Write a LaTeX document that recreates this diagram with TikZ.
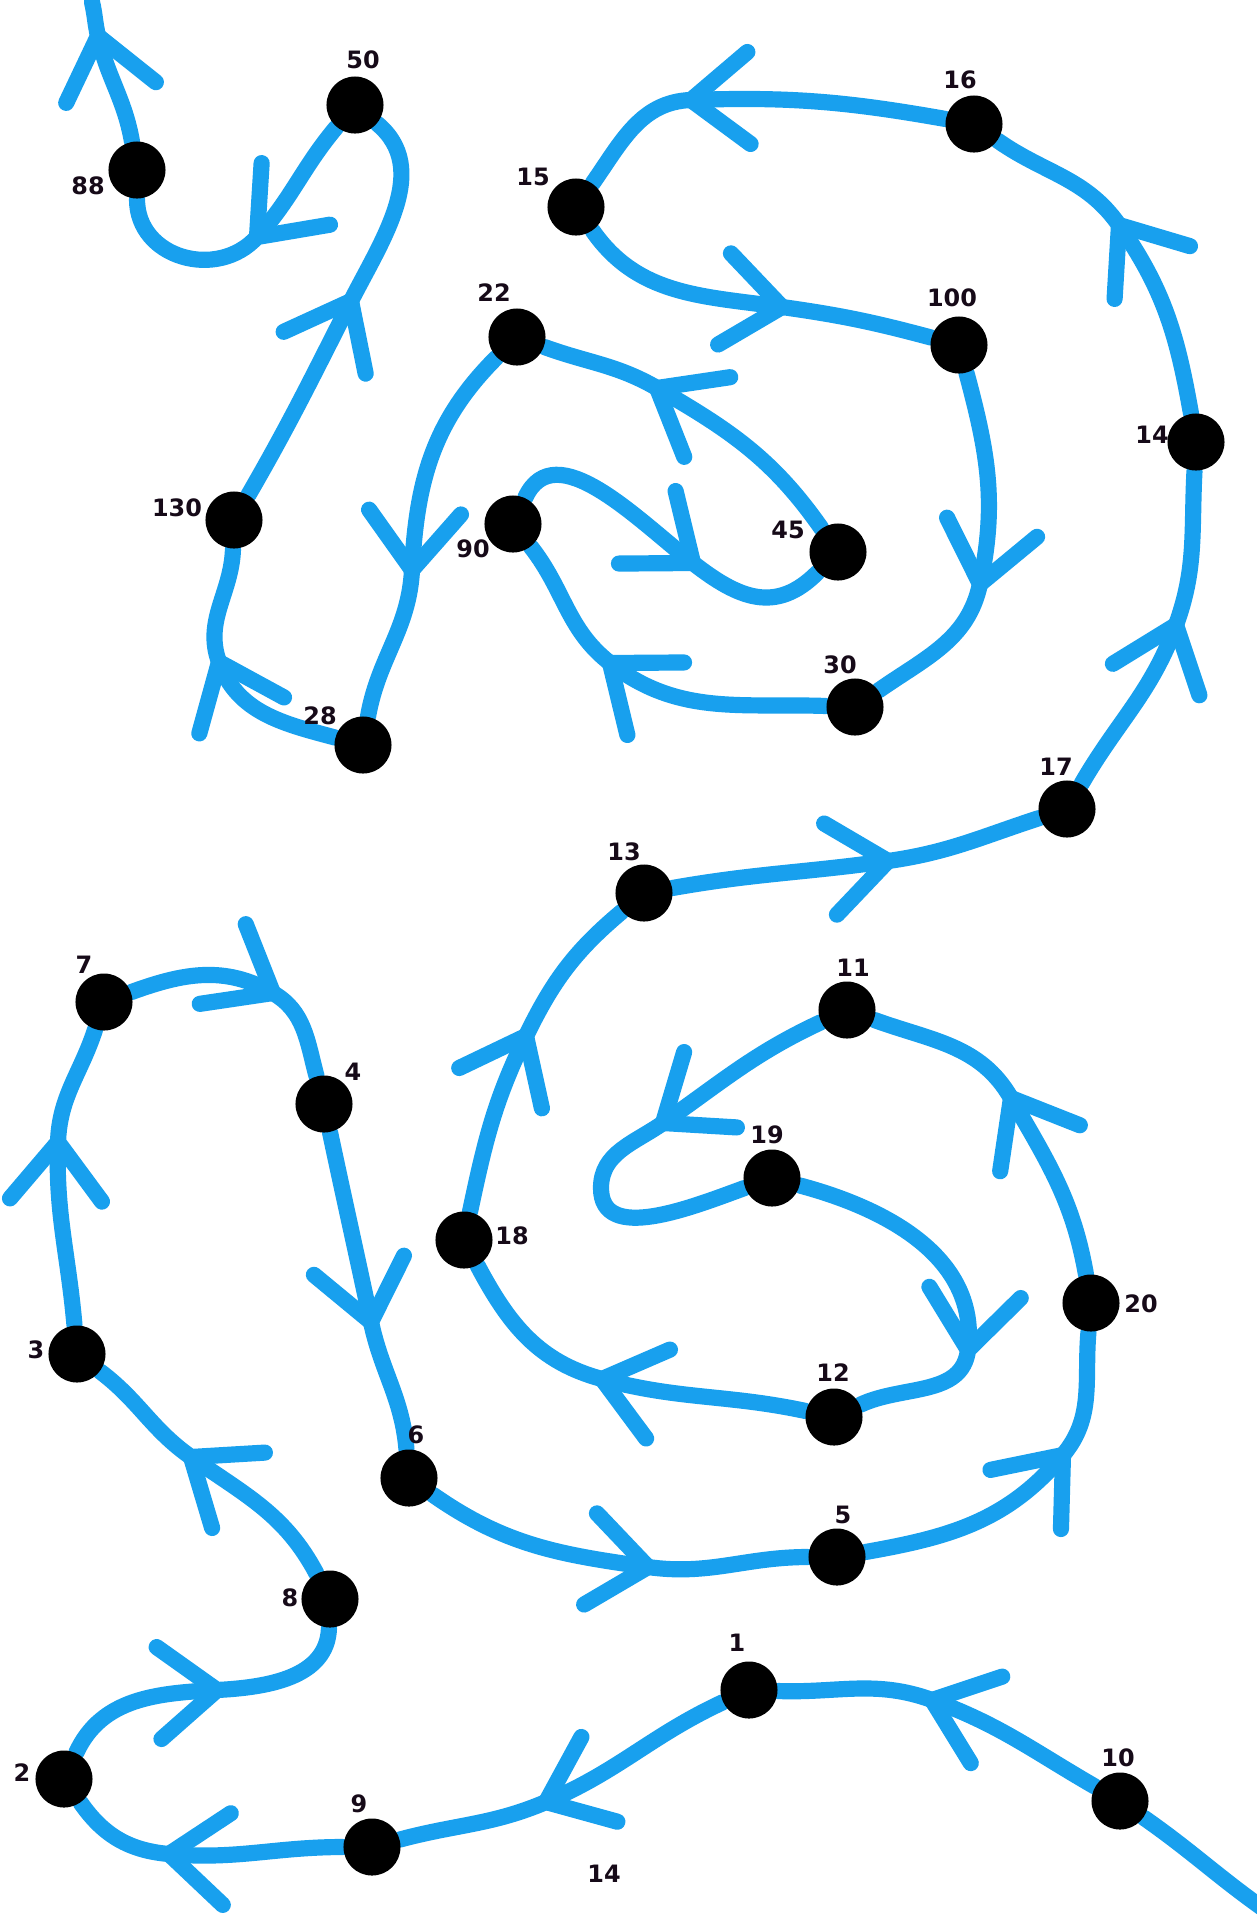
\documentclass[tikz,border=0pt]{standalone}
\usepackage{fontspec}
\newfontfamily\numfont{DejaVu Sans}
\definecolor{trail}{RGB}{24,160,238}
\definecolor{ink}{RGB}{22,10,24}
\pgfdeclarelayer{under}
\pgfsetlayers{under,main}
\tikzset{
  route/.style={draw=trail, line width=4.6pt, line cap=round, line join=round},
  dot/.style={circle, fill=black, minimum size=0.57cm, inner sep=0pt},
  lbl/.style={font=\numfont\bfseries\fontsize{6.8pt}{7pt}\selectfont, text=ink, inner sep=0pt},
  vhead/.pic={\draw[route] (-58,46) -- (0,0) -- (-58,-46);}
}
\begin{document}
\begin{tikzpicture}[x=0.01cm, y=-0.01cm]
\useasboundingbox (0,0) rectangle (1257,1917);

% dots
\node[dot] (n10) at (1120,1801) {};
\node[dot] (n1) at (749,1690) {};
\node[dot] (n9) at (372,1847) {};
\node[dot] (n2) at (64,1779) {};
\node[dot] (n8) at (330,1599) {};
\node[dot] (n3) at (77,1354) {};
\node[dot] (n7) at (104,1002) {};
\node[dot] (n4) at (324,1104) {};
\node[dot] (n6) at (409,1478) {};
\node[dot] (n5) at (837,1557) {};
\node[dot] (n20) at (1091,1303) {};
\node[dot] (n11) at (847,1010) {};
\node[dot] (n19) at (772,1178) {};
\node[dot] (n12) at (834,1417) {};
\node[dot] (n18) at (464,1240) {};
\node[dot] (n13) at (644,893) {};
\node[dot] (n17) at (1067,809) {};
\node[dot] (n14) at (1196,442) {};
\node[dot] (n16) at (974,124) {};
\node[dot] (n15) at (576,207) {};
\node[dot] (n100) at (959,345) {};
\node[dot] (n30) at (855,707) {};
\node[dot] (n90) at (513,524) {};
\node[dot] (n45) at (838,552) {};
\node[dot] (n22) at (517,337) {};
\node[dot] (n28) at (363,745) {};
\node[dot] (n130) at (234,520) {};
\node[dot] (n50) at (355,105) {};
\node[dot] (n88) at (137,170) {};

% labels
\node[lbl] (t10) at (1118,1758) {10};
\node[lbl] (t1) at (737,1643) {1};
\node[lbl] (t9) at (359,1804) {9};
\node[lbl] (t2) at (22,1773) {2};
\node[lbl] (t8) at (290,1598) {8};
\node[lbl] (t3) at (36,1350) {3};
\node[lbl] (t7) at (84,965) {7};
\node[lbl] (t4) at (353,1072) {4};
\node[lbl] (t6) at (416,1435) {6};
\node[lbl] (t5) at (843,1515) {5};
\node[lbl] (t20) at (1141,1304) {20};
\node[lbl] (t11) at (853,968) {11};
\node[lbl] (t19) at (767,1135) {19};
\node[lbl] (t12) at (833,1373) {12};
\node[lbl] (t18) at (512,1236) {18};
\node[lbl] (t13) at (624,852) {13};
\node[lbl] (t17) at (1056,767) {17};
\node[lbl] (t14) at (1152,435) {14};
\node[lbl] (t16) at (960,80) {16};
\node[lbl] (t15) at (533,177) {15};
\node[lbl] (t100) at (952,298) {100};
\node[lbl] (t30) at (840,665) {30};
\node[lbl] (t90) at (473,549) {90};
\node[lbl] (t45) at (788,530) {45};
\node[lbl] (t22) at (494,293) {22};
\node[lbl] (t28) at (320,716) {28};
\node[lbl] (t130) at (177,508) {130};
\node[lbl] (t50) at (363,60) {50};
\node[lbl] (t88) at (88,186) {88};
\node[lbl] (tx14) at (604,1874) {14};

% route ends, arrow points and the loop turn
\coordinate (s) at (1268,1912);
\coordinate (e) at (92,2);
\coordinate (lp) at (601,1188);
\coordinate (a1) at (932,1700);
\coordinate (a2) at (546,1802);
\coordinate (a3) at (169,1854);
\coordinate (a4) at (217,1690);
\coordinate (a5) at (191,1457);
\coordinate (a6) at (58,1142);
\coordinate (a7) at (273,993);
\coordinate (a8) at (371,1322);
\coordinate (a9) at (648,1567);
\coordinate (a10) at (1063,1455);
\coordinate (a11) at (1011,1098);
\coordinate (a12) at (663,1123);
\coordinate (a13) at (968,1350);
\coordinate (a14) at (602,1379);
\coordinate (a15) at (526,1036);
\coordinate (a16) at (888,861);
\coordinate (a17) at (1176,625);
\coordinate (a18) at (1119,225);
\coordinate (a19) at (691,100);
\coordinate (a20) at (782,307);
\coordinate (a21) at (980,584);
\coordinate (a22) at (610,663);
\coordinate (a23) at (693,563);
\coordinate (a24) at (657,388);
\coordinate (a25) at (412,570);
\coordinate (a26) at (219,662);
\coordinate (a27) at (351,301);
\coordinate (a28) at (257,237);
\coordinate (a29) at (98,36);

\begin{pgfonlayer}{under}
\fill[white] (0,0) rectangle (1257,1917);
\draw[route] (s) to[out=145,in=325] (n10)
  to[out=150,in=340] (a1) to[out=160,in=358] (n1)
  to[out=205,in=23] (a2) to[out=203,in=15] (n9)
  to[out=180,in=355] (a3) to[out=175,in=305] (n2)
  to[out=65,in=183] (a4) to[out=3,in=268] (n8)
  to[out=118,in=325] (a5) to[out=145,in=323] (n3)
  to[out=95,in=268] (a6) to[out=88,in=252] (n7)
  to[out=20,in=150] (a7) to[out=-30,in=105] (n4)
  to[out=-78,in=102] (a8) to[out=-78,in=95] (n6)
  to[out=-35,in=172] (a9) to[out=-8,in=180] (n5)
  to[out=10,in=230] (a10) to[out=50,in=265] (n20)
  to[out=100,in=300] (a11) to[out=120,in=340] (n11)
  to[out=205,in=35] (a12) to[out=215,in=90] (lp) to[out=270,in=200] (n19)
  to[out=-15,in=83] (a13) to[out=-97,in=25] (n12)
  to[out=168,in=345] (a14) to[out=165,in=298] (n18)
  to[out=78,in=244] (a15) to[out=64,in=220] (n13)
  to[out=10,in=188] (a16) to[out=8,in=198] (n17)
  to[out=60,in=250] (a17) to[out=70,in=267] (n14)
  to[out=100,in=305] (a18) to[out=125,in=325] (n16)
  to[out=170,in=2] (a19) to[out=182,in=55] (n15)
  to[out=-55,in=172] (a20) to[out=-8,in=165] (n100)
  to[out=-75,in=78] (a21) to[out=-102,in=35] (n30)
  to[out=178,in=322] (a22) to[out=142,in=308] (n90)
  to[out=65,in=142] (a23) to[out=-38,in=225,looseness=1.2] (n45)
  to[out=125,in=330] (a24) to[out=150,in=340] (n22)
  to[out=225,in=87] (a25) to[out=-93,in=80] (n28)
  to[out=165,in=290] (a26) to[out=110,in=268] (n130)
  to[out=60,in=243] (a27) to[out=63,in=320] (n50)
  to[out=230,in=48] (a28) to[out=228,in=270,looseness=1.2] (n88)
  to[out=100,in=283] (a29) to[out=103,in=283] (e);

% open arrow heads along the route
\pic[rotate=160] at (a1) {vhead};
\pic[rotate=203] at (a2) {vhead};
\pic[rotate=175] at (a3) {vhead};
\pic[rotate=3] at (a4) {vhead};
\pic[rotate=145] at (a5) {vhead};
\pic[rotate=88] at (a6) {vhead};
\pic[rotate=-30] at (a7) {vhead};
\pic[rotate=-78] at (a8) {vhead};
\pic[rotate=-8] at (a9) {vhead};
\pic[rotate=50] at (a10) {vhead};
\pic[rotate=120] at (a11) {vhead};
\pic[rotate=215] at (a12) {vhead};
\pic[rotate=-97] at (a13) {vhead};
\pic[rotate=165] at (a14) {vhead};
\pic[rotate=64] at (a15) {vhead};
\pic[rotate=8] at (a16) {vhead};
\pic[rotate=70] at (a17) {vhead};
\pic[rotate=125] at (a18) {vhead};
\pic[rotate=182] at (a19) {vhead};
\pic[rotate=-8] at (a20) {vhead};
\pic[rotate=-102] at (a21) {vhead};
\pic[rotate=142] at (a22) {vhead};
\pic[rotate=-38] at (a23) {vhead};
\pic[rotate=150] at (a24) {vhead};
\pic[rotate=-93] at (a25) {vhead};
\pic[rotate=113] at (a26) {vhead};
\pic[rotate=63] at (a27) {vhead};
\pic[rotate=228] at (a28) {vhead};
\pic[rotate=103] at (a29) {vhead};
\end{pgfonlayer}
\end{tikzpicture}
\end{document}
